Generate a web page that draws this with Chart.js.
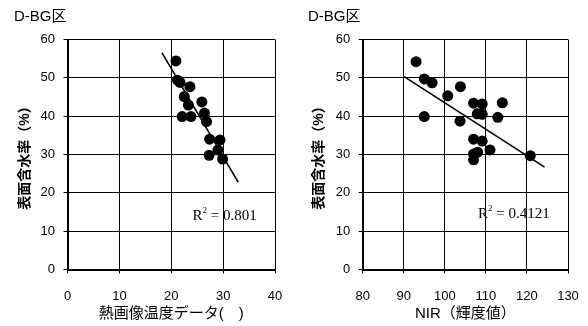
<!DOCTYPE html>
<html>
<head>
<meta charset="utf-8">
<script src="https://cdn.jsdelivr.net/npm/chart.js@4.4.1/dist/chart.umd.min.js"></script>
<style>
  html, body { margin: 0; padding: 0; background: #fff; }
  #wrap { position: relative; width: 588px; height: 326px; }
  canvas { position: absolute; top: 0; }
</style>
</head>
<body>
<div id="wrap">
  <canvas id="chartTemp" width="294" height="326" style="left:0"></canvas>
  <canvas id="chartNir" width="294" height="326" style="left:294px"></canvas>
</div>
<script>
/* ---- data ---- */
// left panel: thermal image temperature vs surface water content
const tempX = [20.9, 21.2, 21.7, 23.6, 22.5, 23.3, 22.1, 23.8, 25.9, 26.4, 26.8, 27.4, 29.4, 27.3, 29.0, 29.9];
const tempY = [54.4, 49.4, 48.8, 47.7, 45.1, 42.9, 39.9, 39.9, 43.7, 40.8, 38.6, 34.0, 33.8, 29.8, 31.2, 28.8];
const tempTrendX = [18.2, 32.9];
const tempTrendY = [56.6, 22.8];
const tempR2 = '0.801';

// right panel: NIR brightness vs surface water content
const nirX = [93.0, 95.0, 96.9, 100.7, 103.8, 95.0, 103.7, 107.0, 109.1, 107.9, 109.1, 112.9, 114.0, 107.0, 109.1, 107.0, 108.0, 107.0, 111.0, 120.8];
const nirY = [54.2, 49.7, 48.7, 45.3, 47.7, 39.9, 38.7, 43.4, 43.2, 40.6, 40.5, 39.7, 43.5, 34.0, 33.5, 30.1, 30.6, 28.6, 31.2, 29.7];
const nirTrendX = [90.1, 124.3];
const nirTrendY = [50.3, 26.7];
const nirR2 = '0.4121';

const yTicks = [0, 10, 20, 30, 40, 50, 60];
const tempTicks = [0, 10, 20, 30, 40];
const nirTicks = [80, 90, 100, 110, 120, 130];

const panelTitle = 'D-BG区';
const yTitle = '表面含水率（%）';
const tempTitle = '熱画像温度データ(　)';
const nirTitle = 'NIR（輝度値）';

const SANS = '"Liberation Sans", "Noto Sans CJK JP", sans-serif';
const SERIF = '"Liberation Serif", serif';

// draws the panel heading and the R² note
const notesPlugin = {
  id: 'notes',
  afterDraw(chart, args, opts) {
    const c = chart.ctx;
    const xs = chart.scales.x, ys = chart.scales.y;
    c.save();
    c.fillStyle = '#000';
    c.textBaseline = 'alphabetic';
    c.textAlign = 'left';
    c.font = '15px ' + SANS;
    c.fillText(panelTitle, 14, 21);

    let px = xs.getPixelForValue(opts.at[0]);
    const py = ys.getPixelForValue(opts.at[1]);
    c.font = '15px ' + SERIF;
    c.fillText('R', px, py);
    px += c.measureText('R').width;
    c.font = '9px ' + SERIF;
    c.fillText('2', px, py - 7);
    px += c.measureText('2').width;
    c.font = '15px ' + SERIF;
    c.fillText(' = ' + opts.text, px, py);
    c.restore();
  }
};

function makePanel(id, xs, ys, trendX, trendY, xMin, xMax, xTicks, xTitle, r2, r2At, axisLeft, plotRight) {
  const ctx = document.getElementById(id);
  return new Chart(ctx, {
    type: 'scatter',
    data: {
      datasets: [{
        data: xs.map((x, i) => ({ x: x, y: ys[i] })),
        backgroundColor: '#000',
        borderWidth: 0,
        pointRadius: 5.5,
        order: 2
      }, {
        type: 'line',
        data: trendX.map((x, i) => ({ x: x, y: trendY[i] })),
        borderColor: '#000',
        borderWidth: 1.6,
        pointRadius: 0,
        fill: false,
        order: 1
      }]
    },
    options: {
      responsive: false,
      animation: false,
      layout: { padding: { top: 39.5, right: 294 - plotRight, left: 0, bottom: 0 } },
      plugins: {
        legend: { display: false },
        tooltip: { enabled: false },
        notes: { text: r2, at: r2At }
      },
      scales: {
        x: {
          type: 'linear',
          min: xMin,
          max: xMax,
          afterBuildTicks: (s) => { s.ticks = xTicks.map(v => ({ value: v })); },
          // fixed height, and no extra room for edge labels
          afterFit: (s) => { s.height = 326 - 269.5; s.paddingLeft = 0; s.paddingRight = 0; },
          grid: { color: '#000', lineWidth: 1, drawTicks: true, tickLength: 4, tickColor: '#000' },
          border: { color: '#000', width: 2 },
          ticks: { color: '#000', font: { family: SANS, size: 13 }, padding: 15, maxRotation: 0 },
          title: { display: true, text: xTitle, color: '#000', font: { family: SANS, size: 15 }, padding: { top: 0, bottom: 3 } }
        },
        y: {
          type: 'linear',
          min: 0,
          max: 60,
          afterBuildTicks: (s) => { s.ticks = yTicks.map(v => ({ value: v })); },
          afterFit: (s) => { s.width = axisLeft; s.paddingTop = 0; s.paddingBottom = 0; },
          grid: { color: '#000', lineWidth: 1, drawTicks: true, tickLength: 4, tickColor: '#000' },
          border: { color: '#000', width: 2 },
          ticks: { color: '#000', font: { family: SANS, size: 13 }, padding: 8.5 },
          title: { display: true, text: yTitle, color: '#000', font: { family: SANS, size: 14, weight: 'bold' }, padding: { top: 17, bottom: 0 } }
        }
      }
    },
    plugins: [notesPlugin]
  });
}

makePanel('chartTemp', tempX, tempY, tempTrendX, tempTrendY, 0, 40, tempTicks, tempTitle, tempR2, [24.1, 12.9], 67.5, 275);
makePanel('chartNir', nirX, nirY, nirTrendX, nirTrendY, 80, 130, nirTicks, nirTitle, nirR2, [108.1, 13.4], 68.7, 274);
</script>
</body>
</html>
